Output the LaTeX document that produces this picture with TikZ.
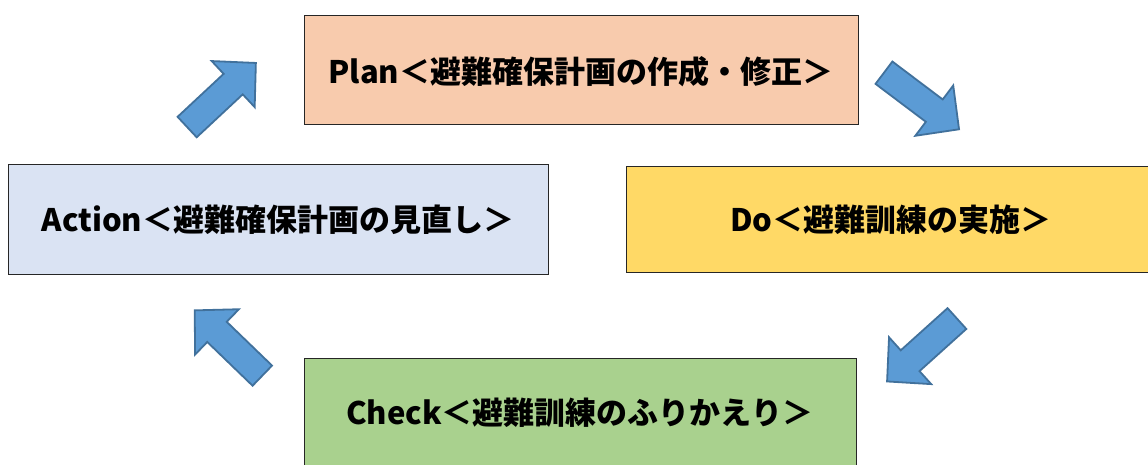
\documentclass[tikz,border=0pt]{standalone}
\usepackage{fontspec}
\setmainfont{Noto Sans CJK JP}
\definecolor{planfill}{HTML}{F8CBAD}
\definecolor{actfill}{HTML}{DAE3F3}
\definecolor{dofill}{HTML}{FFD966}
\definecolor{chkfill}{HTML}{A9D18E}
\definecolor{arrfill}{HTML}{5B9BD5}
\definecolor{arrdraw}{HTML}{41719C}
\tikzset{
  stagebox/.style={draw=black!85, line width=1pt, inner sep=0pt},
  stagetext/.style={font=\fontsize{31}{34}\selectfont\bfseries, inner sep=0pt, anchor=center},
  bluearrow/.style={fill=arrfill, draw=arrdraw, line width=1.8pt, line join=miter},
  pics/blockarrow/.style={code={
    \draw[bluearrow] (-47,-14) -- (16,-14) -- (16,-31.5) -- (47,0) -- (16,31.5) -- (16,14) -- (-47,14) -- cycle;
  }}
}
\begin{document}
\begin{tikzpicture}[x=1pt, y=-1pt]
\useasboundingbox (0,0) rectangle (1148,464);
\clip (0,0) rectangle (1148,464);
\fill[white] (0,0) rectangle (1148,464);
% boxes
\draw[stagebox, fill=planfill] (304,15) rectangle (858,124);
\draw[stagebox, fill=actfill] (8,164) rectangle (548,274);
\draw[stagebox, fill=dofill] (626,166) rectangle (1158,272);
\draw[stagebox, fill=chkfill] (304,358) rectangle (856,470);
% texts
\node[stagetext] (plan) at (581,72) {Plan＜避難確保計画の作成・修正＞};
\node[stagetext] (act) at (278,220) {Action＜避難確保計画の見直し＞};
\node[stagetext] (do) at (891,220) {Do＜避難訓練の実施＞};
\node[stagetext] (chk) at (580,413) {Check＜避難訓練のふりかえり＞};
% arrows
\pic[rotate=43] (a1) at (221.5,95) {blockarrow};
\pic[rotate=-37] (a2) at (921.5,101) {blockarrow};
\pic[rotate=-138] (a3) at (922,350) {blockarrow};
\pic[rotate=136] (a4) at (228.5,343) {blockarrow};
\end{tikzpicture}
\end{document}
